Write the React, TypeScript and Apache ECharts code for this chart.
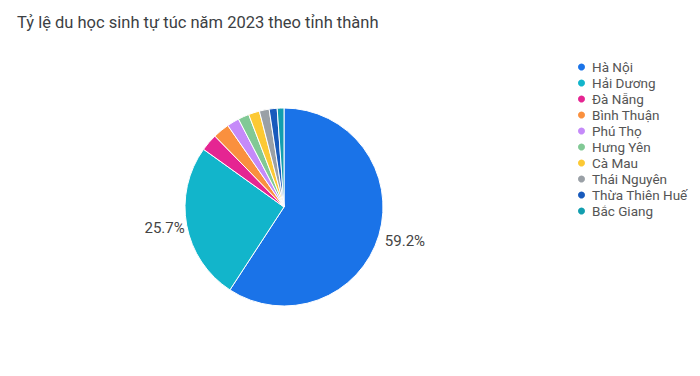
import React, { useEffect, useRef } from "react";
import * as echarts from "echarts";

const title = "Tỷ lệ du học sinh tự túc năm 2023 theo tỉnh thành";
const provinces = [
  "Hà Nội",
  "Hải Dương",
  "Đà Nẵng",
  "Bình Thuận",
  "Phú Thọ",
  "Hưng Yên",
  "Cà Mau",
  "Thái Nguyên",
  "Thừa Thiên Huế",
  "Bắc Giang",
];
const shares = [59.2, 25.7, 2.8, 2.7, 2.0, 1.8, 1.8, 1.6, 1.3, 1.1];
const colors = [
  "#1a73e8",
  "#12b5cb",
  "#e52592",
  "#fa903e",
  "#c58af9",
  "#81c995",
  "#fcc934",
  "#9aa0a6",
  "#185abc",
  "#129eaf",
];
const labeledCount = 2;

export default function App() {
  const ref = useRef<HTMLDivElement>(null);
  useEffect(() => {
    document.body.style.margin = "0";
    const chart = echarts.init(ref.current!, null, { renderer: "svg" });
    chart.setOption({
      animation: false,
      backgroundColor: "#ffffff",
      color: colors,
      title: {
        text: title,
        left: 17,
        top: 14,
        padding: 0,
        textStyle: {
          fontFamily: "Roboto",
          fontSize: 16.5,
          fontWeight: "normal",
          color: "#3c4043",
        },
      },
      legend: {
        orient: "vertical",
        left: 576,
        top: 60,
        padding: 0,
        icon: "circle",
        itemWidth: 9,
        itemHeight: 9,
        itemGap: 2,
        textStyle: {
          fontFamily: "Roboto",
          fontSize: 13.5,
          color: "#555",
          lineHeight: 14,
          padding: [0, 0, 0, 1],
        },
        data: provinces,
      },
      series: [
        {
          type: "pie",
          center: [284, 207],
          radius: 99,
          startAngle: 90,
          clockwise: true,
          avoidLabelOverlap: false,
          itemStyle: { borderColor: "#ffffff", borderWidth: 1 },
          label: {
            show: true,
            position: "outside",
            distanceToLabelLine: 1,
            fontFamily: "Roboto",
            fontSize: 15,
            color: "#444",
            formatter: (p: any) => p.value.toFixed(1) + "%",
          },
          labelLine: { show: false, length: 1, length2: 0 },
          labelLayout: (p: any) =>
            p.dataIndex === 0 ? { dx: 4, dy: 5 } : { dx: 0, dy: 3 },
          emphasis: { disabled: true },
          data: provinces.map((name, i) => ({
            name,
            value: shares[i],
            label: { show: i < labeledCount },
          })),
        },
      ],
    });
    return () => chart.dispose();
  }, []);
  return <div ref={ref} style={{ width: 700, height: 376 }} />;
}
